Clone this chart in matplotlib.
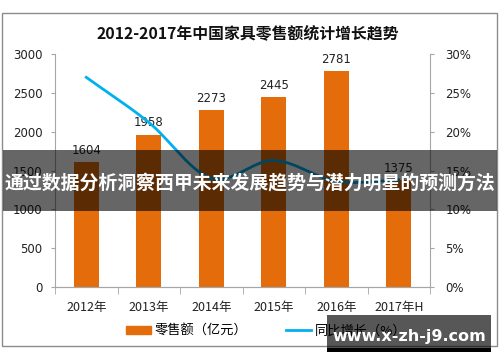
import numpy as np
import matplotlib
matplotlib.use("Agg")
import matplotlib.pyplot as plt
from matplotlib.patches import Rectangle, Patch
from matplotlib.lines import Line2D

plt.rcParams['font.family'] = ['Noto Sans CJK SC', 'DejaVu Sans']

title = "2012-2017年中国家具零售额统计增长趋势"
categories = ["2012年", "2013年", "2014年", "2015年", "2016年", "2017年H"]
sales = [1604, 1958, 2273, 2445, 2781, 1375]
growth = [27.0, 21.2, 14.0, 16.3, 13.6, 13.8]
sales_label = "零售额（亿元）"
growth_label = "同比增长（%）"
banner_text = "通过数据分析洞察西甲未来发展趋势与潜力明星的预测方法"
site_text = "www.x-zh-j9.com"

W, H = 500, 362
fig = plt.figure(figsize=(W / 100, H / 100), dpi=100)

def fx(px):
    return px / W

def fy(py):
    return 1 - py / H

ax = fig.add_axes([fx(55), fy(287), fx(430) - fx(55), fy(54) - fy(287)])
ax2 = ax.twinx()

orange = "#E46C0A"
blue = "#00B0F0"
axcol = "#A6A6A6"

x = np.arange(len(categories))
ax.bar(x, sales, width=0.4, color=orange, zorder=2)
for xi, v in zip(x, sales):
    ax.text(xi, v + 70, str(v), ha="center", va="bottom", fontsize=8.5,
            color="#222222", family=["DejaVu Sans"])

ax.set_xlim(-0.5, len(categories) - 0.5)
ax.set_ylim(0, 3000)
ax.set_yticks(np.arange(0, 3001, 500))
ax.set_xticks(x)
ax.set_xticklabels(categories, fontsize=9)
ax.set_xticks(np.arange(-0.5, len(categories), 1), minor=True)
ax.tick_params(axis="x", which="major", length=0, pad=10, colors="#222222")
ax.tick_params(axis="x", which="minor", length=5, color=axcol, direction="out")
ax.tick_params(axis="y", length=3, color=axcol, labelsize=8.5, labelcolor="#222222", pad=6)
for lab in ax.get_yticklabels():
    lab.set_family(["DejaVu Sans"])

# smooth growth curve (Catmull-Rom through the data points)
gx = x.astype(float)
gy = np.array(growth, dtype=float)
px_ = np.concatenate([[2 * gx[0] - gx[1]], gx, [2 * gx[-1] - gx[-2]]])
py_ = np.concatenate([[2 * gy[0] - gy[1]], gy, [2 * gy[-1] - gy[-2]]])
sx, sy = [], []
t = np.linspace(0, 1, 30)
for i in range(1, len(px_) - 2):
    for arr, out in ((px_, sx), (py_, sy)):
        p0, p1, p2, p3 = arr[i - 1], arr[i], arr[i + 1], arr[i + 2]
        seg = 0.5 * ((2 * p1) + (-p0 + p2) * t + (2 * p0 - 5 * p1 + 4 * p2 - p3) * t ** 2
                     + (-p0 + 3 * p1 - 3 * p2 + p3) * t ** 3)
        out.extend(seg)
ax2.plot(sx, sy, color=blue, lw=2, zorder=3)
ax2.set_ylim(0, 30)
ax2.set_yticks(np.arange(0, 31, 5))
ax2.set_yticklabels([f"{v}%" for v in range(0, 31, 5)])
ax2.tick_params(axis="y", length=3, color=axcol, labelsize=8.5, labelcolor="#222222", pad=8)
for lab in ax2.get_yticklabels():
    lab.set_family(["DejaVu Sans"])

for a in (ax, ax2):
    a.spines["top"].set_visible(False)
    a.spines["left"].set_color(axcol)
    a.spines["right"].set_color(axcol)
    a.spines["bottom"].set_color(axcol)
ax2.spines["left"].set_visible(False)
ax.spines["right"].set_visible(False)

# legend
handles = [Patch(color=orange), Line2D([0], [0], color=blue, lw=2)]
leg = fig.legend(handles, [sales_label, growth_label], loc="center",
                 bbox_to_anchor=(fx(266), fy(331)), ncol=2, frameon=False,
                 fontsize=9.5, handlelength=1.95, handleheight=0.5,
                 columnspacing=2.9, handletextpad=0.25)

# title
fig.text(fx(248), fy(33), title, ha="center", va="center", fontsize=11.4,
         fontweight="bold", color="#111111")

# outer frame
fig.patches.append(Rectangle((fx(2), fy(346)), fx(495), fy(13) - fy(346),
                             transform=fig.transFigure, fill=False,
                             edgecolor="#8C8C8C", lw=1, zorder=1))

# banner overlay
fig.patches.append(Rectangle((fx(3), fy(211)), fx(494), fy(150) - fy(211),
                             transform=fig.transFigure, facecolor="black",
                             alpha=0.6, edgecolor="none", zorder=10))
fig.text(fx(250), fy(184), banner_text, ha="center", va="center",
         fontsize=13.6, fontweight="bold", color="white", zorder=11)

# site watermark box
fig.patches.append(Rectangle((fx(327), fy(348)), fx(164), fy(315) - fy(348),
                             transform=fig.transFigure, facecolor="black",
                             alpha=0.66, edgecolor="none", zorder=10))
fig.patches.append(Rectangle((fx(327), fy(352)), fx(164), fy(348) - fy(352),
                             transform=fig.transFigure, facecolor="black",
                             edgecolor="none", zorder=10))
fig.text(fx(409), fy(336), site_text, ha="center", va="center",
         fontsize=11.5, fontweight="bold", color="white", zorder=11,
         family=["DejaVu Sans"])

fig.savefig("out.png", dpi=100)
